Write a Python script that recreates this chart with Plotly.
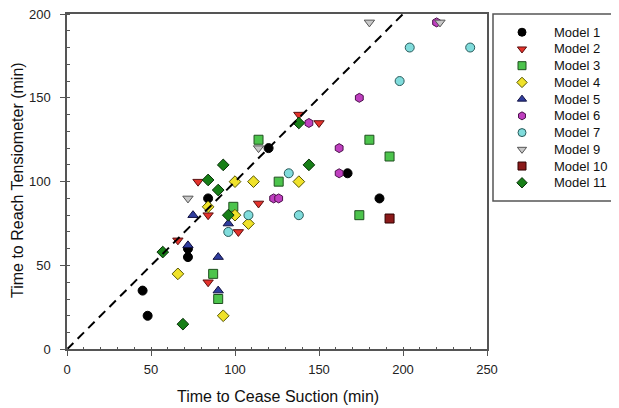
import plotly.graph_objects as go

# page renders with an 8px body margin, so the figure is sized to fit the window
OFF = 8
W, H = 619 - OFF, 408 - OFF

# ---- data ----
models = ["Model 1", "Model 2", "Model 3", "Model 4", "Model 5", "Model 6",
          "Model 7", "Model 9", "Model 10", "Model 11"]

m1_x = [45, 48, 72, 72, 84, 120, 167, 186]
m1_y = [35, 20, 60, 55, 90, 120, 105, 90]

m2_x = [66, 78, 84, 84, 102, 114, 138, 150]
m2_y = [65, 100, 80, 40, 70, 87, 140, 135]

m3_x = [87, 90, 99, 114, 126, 174, 180, 192]
m3_y = [45, 30, 85, 125, 100, 80, 125, 115]

m4_x = [66, 84, 93, 100, 100, 108, 111, 138]
m4_y = [45, 85, 20, 100, 80, 75, 100, 100]

m5_x = [72, 75, 90, 90, 96]
m5_y = [62, 80, 55, 35, 75]

m6_x = [123, 126, 144, 162, 162, 174, 220]
m6_y = [90, 90, 135, 120, 105, 150, 195]

m7_x = [96, 108, 132, 138, 198, 204, 240]
m7_y = [70, 80, 105, 80, 160, 180, 180]

m9_x = [72, 114, 180, 222]
m9_y = [90, 120, 195, 195]

m10_x = [192]
m10_y = [78]

m11_x = [57, 69, 84, 90, 93, 96, 138, 144]
m11_y = [58, 15, 101, 95, 110, 80, 135, 110]

one_to_one = [0, 200]

x_ticks = [0, 50, 100, 150, 200, 250]
y_ticks = [0, 50, 100, 150, 200]

xs = [m1_x, m2_x, m3_x, m4_x, m5_x, m6_x, m7_x, m9_x, m10_x, m11_x]
ys = [m1_y, m2_y, m3_y, m4_y, m5_y, m6_y, m7_y, m9_y, m10_y, m11_y]

# ---- styles ----
symbols = ["circle", "triangle-down", "square", "diamond", "triangle-up",
           "hexagon", "circle", "triangle-down", "square", "diamond"]
colors = ["#000000", "#e5322b", "#4cc44c", "#f0e22a", "#2f3d9e",
          "#bf3fbf", "#80dcdc", "#c8c8c8", "#8b1a1a", "#177f17"]
outline = ["#000000", "#5a1010", "#1f4f1f", "#555500", "#101040",
           "#4a104a", "#2a5a5a", "#555555", "#300000", "#0a300a"]

FONT = "Liberation Sans, Arial, sans-serif"
AX = "#555555"
MSIZE = 9

fig = go.Figure()

for i, name in enumerate(models):
    fig.add_trace(go.Scatter(
        x=xs[i], y=ys[i], mode="markers", name=name, showlegend=False,
        marker=dict(symbol=symbols[i], size=MSIZE, color=colors[i],
                    line=dict(color=outline[i], width=1)),
        xaxis="x", yaxis="y"))

# 1:1 line drawn on top of markers
fig.add_trace(go.Scatter(
    x=one_to_one, y=one_to_one, mode="lines", showlegend=False,
    line=dict(color="#000000", width=2, dash="9px,6px"),
    xaxis="x", yaxis="y"))

# ---- manual legend (markers through hidden axes x2/y2) ----
rows = list(range(len(models)))
for i, name in enumerate(models):
    fig.add_trace(go.Scatter(
        x=[29], y=[rows[i]], mode="markers", showlegend=False, hoverinfo="skip",
        marker=dict(symbol=symbols[i], size=8, color=colors[i],
                    line=dict(color=outline[i], width=1)),
        xaxis="x2", yaxis="y2"))
    fig.add_annotation(x=59, y=rows[i], xref="x2", yref="y2", text=name,
                       showarrow=False, xanchor="left", yanchor="middle",
                       font=dict(family=FONT, size=13, color="#111111"))


def px_x(p):
    return (p - OFF) / W


def px_y(p):
    return (H - (p - OFF)) / H


plot_l, plot_r, plot_t, plot_b = 67, 487, 14, 349.3
leg_l, leg_r, leg_t, leg_b = 493, 617, 14, 201

fig.add_shape(type="rect", xref="paper", yref="paper",
              x0=px_x(leg_l), x1=px_x(leg_r), y0=px_y(leg_b), y1=px_y(leg_t),
              line=dict(color=AX, width=1.5), fillcolor="rgba(0,0,0,0)")

# axis titles
fig.add_annotation(x=px_x(278), y=px_y(396), xref="paper", yref="paper",
                   text="Time to Cease Suction (min)", showarrow=False,
                   xanchor="center", yanchor="middle",
                   font=dict(family=FONT, size=16, color="#111111"))
fig.add_annotation(x=px_x(17), y=px_y(180), xref="paper", yref="paper",
                   text="Time to Reach Tensiometer (min)", showarrow=False,
                   textangle=-90, xanchor="center", yanchor="middle",
                   font=dict(family=FONT, size=16, color="#111111"))

axis_common = dict(
    showgrid=False, zeroline=False, showline=True, linecolor=AX, linewidth=1.5,
    mirror=True, ticks="outside", ticklen=5, tickwidth=1.2, tickcolor=AX,
    tickfont=dict(family=FONT, size=13, color="#222222"),
    ticklabeloverflow="allow",
    minor=dict(dtick=10, ticks="inside", ticklen=3, tickwidth=1, tickcolor=AX),
)

fig.update_layout(
    width=W, height=H,
    margin=dict(l=0, r=0, t=0, b=0),
    paper_bgcolor="white", plot_bgcolor="white",
    showlegend=False,
    xaxis=dict(domain=[px_x(plot_l), px_x(plot_r)], range=[0, 250],
               tickvals=x_ticks, ticktext=[str(v) for v in x_ticks],
               ticklabelstandoff=2, anchor="y", automargin=False, **axis_common),
    yaxis=dict(domain=[px_y(plot_b), px_y(plot_t)], range=[0, 200],
               tickvals=y_ticks, ticktext=[str(v) for v in y_ticks],
               ticklabelstandoff=7, anchor="x", automargin=False, **axis_common),
    xaxis2=dict(domain=[px_x(leg_l), px_x(leg_r)], range=[0, leg_r - leg_l],
                visible=False, anchor="y2", fixedrange=True),
    yaxis2=dict(domain=[px_y(leg_b), px_y(leg_t)], range=[9 + 1.09, -1.09],
                visible=False, anchor="x2", fixedrange=True),
)

fig.write_html("out.html")
